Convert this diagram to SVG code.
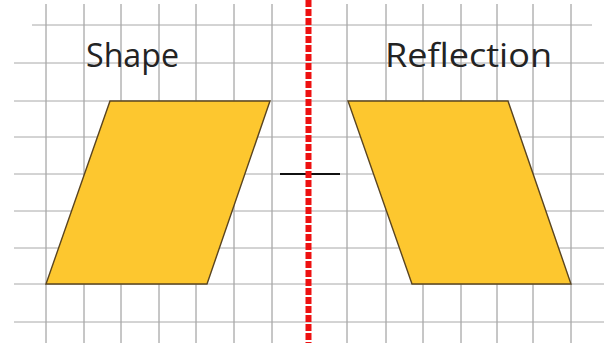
<svg xmlns="http://www.w3.org/2000/svg" width="604" height="343" viewBox="0 0 604 343">
<style>
.grid line{stroke:#8e8e8e;stroke-width:1}
.gh line{stroke:#a8a8a8;stroke-width:1}
.shape{fill:#FDC72F;stroke:#5a4520;stroke-width:1.4;stroke-linejoin:miter}
.lbl{font-family:"Open Sans","Noto Sans","Liberation Sans",sans-serif;font-size:32px;fill:#232323}
.mirror{stroke:#ee1111;stroke-width:6;stroke-dasharray:7 2}
.tick{stroke:#111;stroke-width:2.2}
</style>
<rect width="604" height="343" fill="#ffffff"/>
<g id="grid">
<g class="grid">
<line x1="46" y1="4" x2="46" y2="343"/>
<line x1="84" y1="4" x2="84" y2="343"/>
<line x1="121" y1="4" x2="121" y2="343"/>
<line x1="159" y1="4" x2="159" y2="343"/>
<line x1="196" y1="4" x2="196" y2="343"/>
<line x1="234" y1="4" x2="234" y2="343"/>
<line x1="272" y1="4" x2="272" y2="343"/>
<line x1="347" y1="4" x2="347" y2="343"/>
<line x1="386" y1="4" x2="386" y2="343"/>
<line x1="423" y1="4" x2="423" y2="343"/>
<line x1="461" y1="4" x2="461" y2="343"/>
<line x1="497" y1="4" x2="497" y2="343"/>
<line x1="533" y1="4" x2="533" y2="343"/>
<line x1="571" y1="4" x2="571" y2="343"/>
</g>
<g class="gh">
<line x1="32" y1="25" x2="592" y2="25"/>
<line x1="14" y1="63" x2="604" y2="63"/>
<line x1="14" y1="101" x2="604" y2="101"/>
<line x1="14" y1="137" x2="604" y2="137"/>
<line x1="14" y1="174" x2="604" y2="174"/>
<line x1="14" y1="211" x2="604" y2="211"/>
<line x1="14" y1="248" x2="604" y2="248"/>
<line x1="14" y1="284" x2="604" y2="284"/>
<line x1="14" y1="322" x2="604" y2="322"/>
</g>
</g>
<g id="shape">
<polygon class="shape" points="110,101 270,101 207,284 46,284"/>
<text class="lbl" x="86" y="67" textLength="93" lengthAdjust="spacingAndGlyphs">Shape</text>
</g>
<g id="reflection">
<polygon class="shape" points="348,101 508,101 571,284 412,284"/>
<text class="lbl" x="385" y="67" textLength="167" lengthAdjust="spacingAndGlyphs">Reflection</text>
</g>
<g id="connectors">
<line class="tick" x1="280" y1="174" x2="340" y2="174"/>
<line class="mirror" x1="308.5" y1="0" x2="308.5" y2="343"/>
</g>
</svg>
